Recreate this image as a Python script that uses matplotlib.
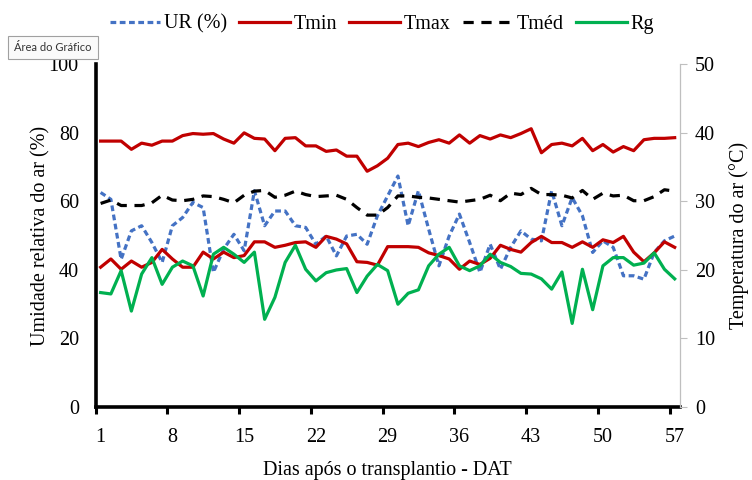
import matplotlib
matplotlib.use("Agg")
import matplotlib.pyplot as plt
from matplotlib.ticker import FixedLocator, NullFormatter
import numpy as np

days = list(range(1, 58))
ur = [62.6, 60.6, 43.1, 51.4, 52.9, 48.0, 42.2, 52.9, 55.3, 59.7,
      58.2, 39.3, 46.1, 50.4, 45.6, 63.1, 52.9, 57.2, 57.2, 52.9,
      52.4, 47.5, 49.9, 44.1, 49.9, 50.4, 47.5, 55.8, 61.6, 67.4,
      52.9, 63.1, 51.9, 41.2, 49.9, 56.3, 48.0, 39.3, 47.5, 40.2,
      46.6, 51.4, 49.0, 48.5, 63.1, 52.9, 61.1, 55.8, 45.1, 48.5,
      46.6, 38.3, 38.3, 37.3, 45.1, 48.5, 49.9]
tmin = [20.4, 21.6, 20.1, 21.3, 20.4, 21.1, 23.0, 21.6, 20.4, 20.4,
        22.6, 21.6, 22.6, 21.8, 22.1, 24.1, 24.1, 23.3, 23.6, 24.0,
        24.1, 23.3, 24.9, 24.5, 23.8, 21.2, 21.1, 20.7, 23.4, 23.4,
        23.4, 23.3, 22.5, 22.1, 21.6, 20.1, 21.3, 20.8, 21.7, 23.6,
        23.0, 22.6, 24.0, 24.9, 24.0, 24.0, 23.3, 24.1, 23.3, 24.4,
        24.0, 24.9, 22.6, 21.2, 22.5, 24.1, 23.3]
tmax = [38.8, 38.8, 38.8, 37.6, 38.5, 38.2, 38.8, 38.8, 39.6, 39.9,
        39.8, 39.9, 39.1, 38.5, 40.0, 39.2, 39.1, 37.4, 39.2, 39.3,
        38.1, 38.1, 37.3, 37.5, 36.6, 36.6, 34.4, 35.2, 36.3, 38.3,
        38.5, 38.0, 38.6, 39.0, 38.5, 39.7, 38.5, 39.6, 39.1, 39.7,
        39.3, 39.9, 40.6, 37.1, 38.3, 38.5, 38.1, 39.2, 37.4, 38.3,
        37.2, 38.0, 37.4, 39.0, 39.2, 39.2, 39.3]
tmed = [29.7, 30.2, 29.4, 29.4, 29.4, 29.8, 30.9, 30.2, 30.1, 30.3,
        30.8, 30.7, 30.3, 29.8, 30.9, 31.5, 31.6, 30.6, 30.9, 31.5,
        31.0, 30.7, 30.8, 30.9, 30.3, 29.1, 28.0, 28.0, 29.1, 30.8,
        30.8, 30.6, 30.5, 30.3, 30.1, 29.9, 30.1, 30.3, 30.9, 30.1,
        31.2, 31.0, 31.9, 31.0, 31.0, 30.9, 30.5, 31.6, 30.3, 31.2,
        30.8, 30.9, 30.1, 30.1, 30.7, 31.7, 31.5]
rg = [16.7, 16.5, 19.9, 14.0, 19.4, 21.8, 17.9, 20.4, 21.3, 20.6,
      16.2, 22.3, 23.3, 22.3, 21.1, 22.6, 12.8, 16.0, 21.1, 23.6,
      20.1, 18.4, 19.6, 20.0, 20.2, 16.7, 19.1, 20.8, 19.9, 15.0,
      16.6, 17.1, 20.6, 22.3, 23.3, 20.6, 19.9, 20.6, 22.3, 21.1,
      20.5, 19.5, 19.4, 18.7, 17.2, 19.7, 12.2, 20.1, 14.2, 20.6,
      21.8, 21.8, 20.7, 21.0, 22.5, 20.1, 18.7]
xtick_labels = [1, 8, 15, 22, 29, 36, 43, 50, 57]
left_ticks = [0, 20, 40, 60, 80, 100]
right_ticks = [0, 10, 20, 30, 40, 50]

plt.rcParams['font.family'] = ['Liberation Serif', 'DejaVu Serif']

fig = plt.figure(figsize=(7.52, 4.8), dpi=100)
ax = fig.add_axes([0.127, 0.152, 0.777, 0.714])
ax2 = ax.twinx()

lw = 2.3
red = '#C00000'
l_ur, = ax.plot(days, ur, color='#4472C4', lw=lw, dashes=(1.8, 1.1), label='UR (%)')
l_tmin, = ax2.plot(days, tmin, color=red, lw=lw, label='Tmin')
l_tmax, = ax2.plot(days, tmax, color=red, lw=lw, label='Tmax')
l_tmed, = ax2.plot(days, tmed, color='black', lw=lw, dashes=(3.2, 2.4), label='Tméd')
l_rg, = ax2.plot(days, rg, color='#00B050', lw=lw, label='Rg')

ax.set_xlim(0.5, 57.5)
ax.set_ylim(0, 100)
ax2.set_ylim(0, 50)

# labels centred on categories, tick marks on category boundaries
ax.xaxis.set_major_locator(FixedLocator(xtick_labels))
ax.set_xticklabels([str(v) for v in xtick_labels])
ax.xaxis.set_minor_locator(FixedLocator([v - 0.5 for v in xtick_labels]))
ax.xaxis.set_minor_formatter(NullFormatter())
ax.tick_params(axis='x', which='major', length=0, labelsize=14.5, pad=15)
ax.tick_params(axis='x', which='minor', length=5, width=2.2, color='black', direction='out')

ax.set_yticks(left_ticks)
ax.tick_params(axis='y', which='major', length=0, labelsize=14.5, pad=12)
ax2.set_yticks(right_ticks)
ax2.tick_params(axis='y', which='major', length=5, width=0.8, color='#BFBFBF', labelsize=14.5, pad=6)

for a in (ax, ax2):
    a.spines['top'].set_visible(False)
ax.spines['right'].set_visible(False)
ax2.spines['left'].set_visible(False)
ax2.spines['bottom'].set_visible(False)
ax.spines['left'].set_linewidth(2.6)
ax.spines['bottom'].set_linewidth(2.6)
ax2.spines['right'].set_linewidth(0.9)
ax2.spines['right'].set_color('#BFBFBF')

ax.set_xlabel('Dias após o transplantio - DAT', fontsize=14.5, labelpad=10)
ax.set_ylabel('Umidade relativa do ar (%)', fontsize=14.5, labelpad=-1)
ax2.set_ylabel('Temperatura do ar (°C)', fontsize=14.5, labelpad=10)

handles = [l_ur, l_tmin, l_tmax, l_tmed, l_rg]
fig.legend(handles, [h.get_label() for h in handles], loc='center', bbox_to_anchor=(0.508, 0.95),
           ncol=5, frameon=False, fontsize=14.5, handlelength=2.5, handletextpad=0.2,
           columnspacing=0.6)

fig.text(0.019, 0.901, 'Área do Gráfico', family=['Liberation Sans Narrow', 'Lato', 'DejaVu Sans'],
         fontsize=8, va='center', ha='left', color='#333333',
         bbox=dict(boxstyle='square,pad=0.55', facecolor='#FAFAFA', edgecolor='#A0A0A0', linewidth=0.8))

fig.savefig('out.png', dpi=100)
